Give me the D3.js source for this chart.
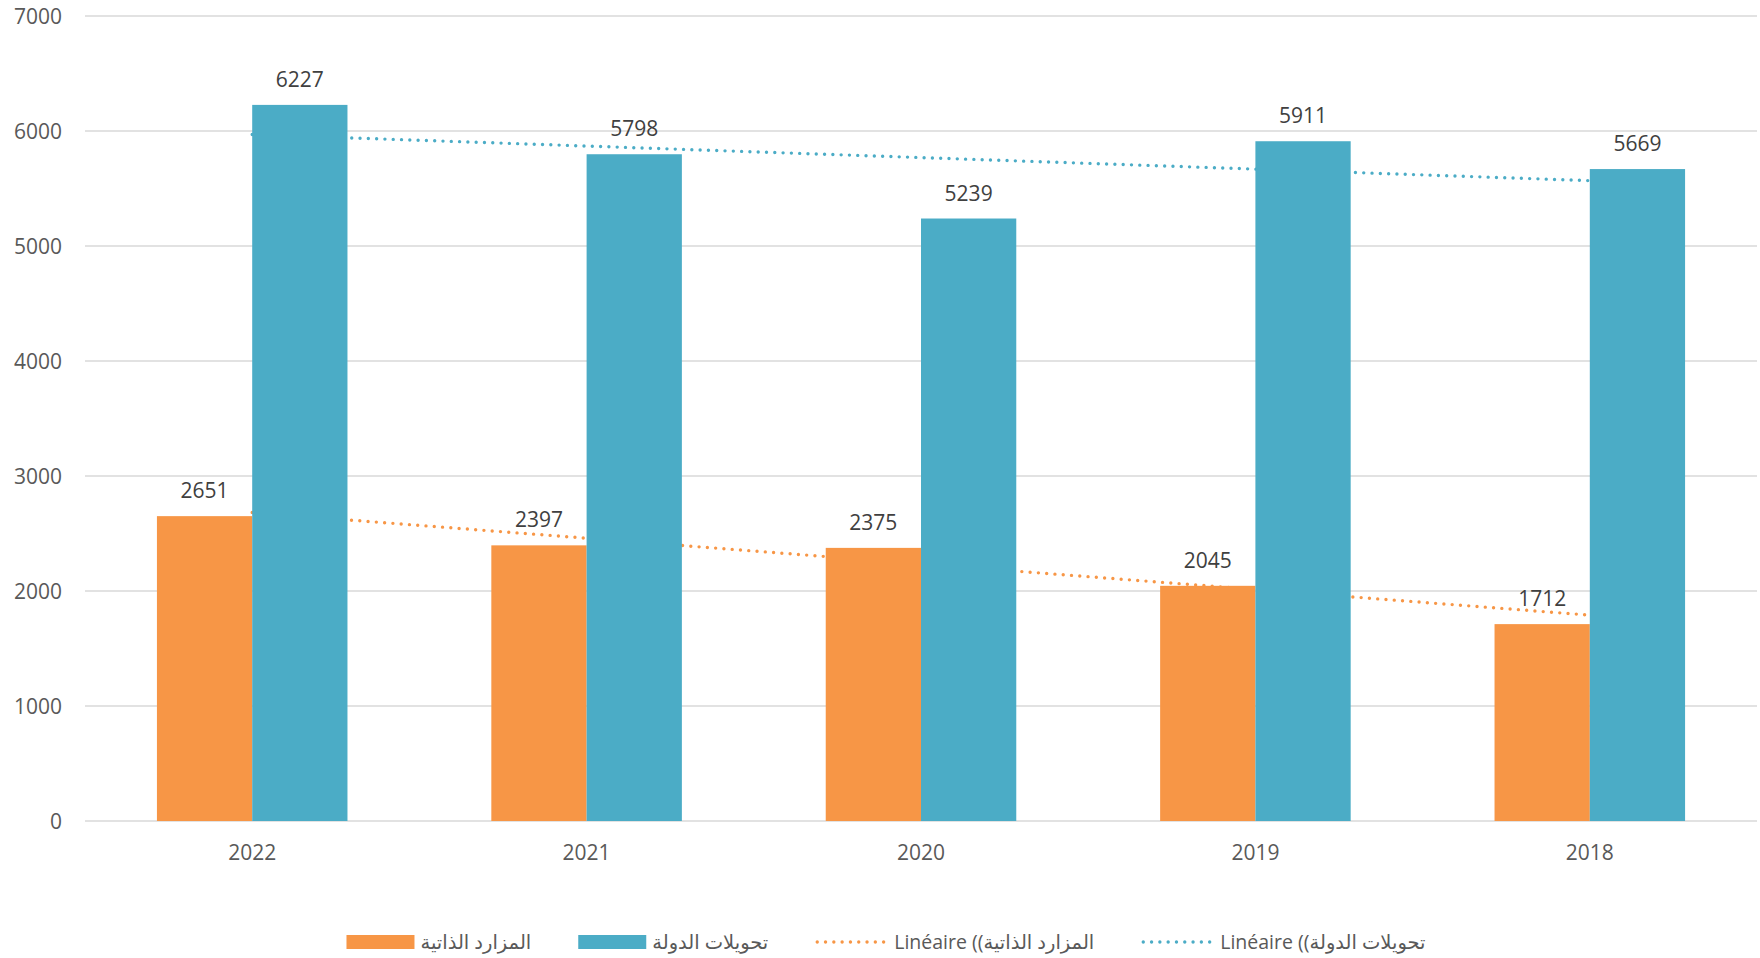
<!DOCTYPE html>
<html>
<head>
<meta charset="utf-8">
<script src="https://cdn.jsdelivr.net/npm/d3@7"></script>
<style>
  body { margin: 0; background: #fff; }
  svg { display: block; }
  text { font-family: "Open Sans", "DejaVu Sans", sans-serif; }
</style>
</head>
<body>
<div id="chart"></div>
<script>
var width = 1760;
var height = 958;

// data
var years = ["2022", "2021", "2020", "2019", "2018"];
var ownResources = [2651, 2397, 2375, 2045, 1712];
var stateTransfers = [6227, 5798, 5239, 5911, 5669];
var yTicks = [0, 1000, 2000, 3000, 4000, 5000, 6000, 7000];
var seriesNames = ["المزارد الذاتية", "تحويلات الدولة"];
var trendNames = ["Linéaire (\u202Bالمزارد الذاتية)\u202C", "Linéaire (\u202Bتحويلات الدولة)\u202C"];
var colors = ["#F79646", "#4BACC6"];

var plot = {left: 85, right: 1757, top: 16, bottom: 821};

var svg = d3.select("#chart").append("svg")
  .attr("width", width)
  .attr("height", height);

var x = d3.scaleBand().domain(years).range([plot.left, plot.right]).padding(0);
var xs = d3.scaleBand().domain([0, 1]).range([0, x.bandwidth()]).paddingInner(0).paddingOuter(0.755);
var y = d3.scaleLinear().domain([0, 7000]).range([plot.bottom, plot.top]);

// gridlines
svg.append("g")
  .selectAll("line")
  .data(yTicks)
  .enter().append("line")
    .attr("x1", plot.left)
    .attr("x2", plot.right)
    .attr("y1", function(d) { return y(d); })
    .attr("y2", function(d) { return y(d); })
    .attr("stroke", "#d9d9d9")
    .attr("stroke-width", 1.4);

// y axis labels
svg.append("g")
  .selectAll("text")
  .data(yTicks)
  .enter().append("text")
    .attr("x", 62)
    .attr("y", function(d) { return y(d); })
    .attr("dy", "0.36em")
    .attr("text-anchor", "end")
    .attr("font-size", 21)
    .attr("fill", "#595959")
    .text(function(d) { return d; });

// x axis labels
svg.append("g")
  .selectAll("text")
  .data(years)
  .enter().append("text")
    .attr("x", function(d) { return x(d) + x.bandwidth() / 2; })
    .attr("y", plot.bottom + 39)
    .attr("text-anchor", "middle")
    .attr("font-size", 21)
    .attr("fill", "#595959")
    .text(function(d) { return d; });

// linear trend (least squares, like the spreadsheet trendline)
function trend(values) {
  var n = values.length;
  var mx = d3.mean(values, function(v, i) { return i; });
  var my = d3.mean(values);
  var num = 0, den = 0;
  values.forEach(function(v, i) { num += (i - mx) * (v - my); den += (i - mx) * (i - mx); });
  var slope = num / den;
  return [my - slope * mx, my + slope * (n - 1 - mx)];
}

var series = [ownResources, stateTransfers];

// trendlines sit behind the bars
series.forEach(function(vals, s) {
  var t = trend(vals);
  svg.append("line")
    .attr("x1", x(years[0]) + x.bandwidth() / 2)
    .attr("x2", x(years[years.length - 1]) + x.bandwidth() / 2)
    .attr("y1", y(t[0]))
    .attr("y2", y(t[1]))
    .attr("stroke", colors[s])
    .attr("stroke-width", 3.4)
    .attr("stroke-linecap", "round")
    .attr("stroke-dasharray", "0 8.3");
});

// bars
series.forEach(function(vals, s) {
  var g = svg.append("g");
  g.selectAll("rect")
    .data(vals)
    .enter().append("rect")
      .attr("x", function(d, i) { return x(years[i]) + xs(s); })
      .attr("width", xs.bandwidth())
      .attr("y", function(d) { return y(d); })
      .attr("height", function(d) { return y(0) - y(d); })
      .attr("fill", colors[s]);
  g.selectAll("text")
    .data(vals)
    .enter().append("text")
      .attr("x", function(d, i) { return x(years[i]) + xs(s) + xs.bandwidth() / 2; })
      .attr("y", function(d) { return y(d) - 18; })
      .attr("text-anchor", "middle")
      .attr("font-size", 21)
      .attr("fill", "#404040")
      .text(function(d) { return d; });
});

// legend
var legend = svg.append("g");
var items = [
  {type: "box", color: colors[0], label: seriesNames[0]},
  {type: "box", color: colors[1], label: seriesNames[1]},
  {type: "dots", color: colors[0], label: trendNames[0]},
  {type: "dots", color: colors[1], label: trendNames[1]}
];
var ly = 942;
var cursor = 0;
var placed = [];
items.forEach(function(it) {
  var g = legend.append("g");
  var tx = 74;
  if (it.type == "box") {
    g.append("rect").attr("x", 0).attr("y", ly - 7).attr("width", 68).attr("height", 14).attr("fill", it.color);
  } else {
    g.append("line").attr("x1", 2).attr("x2", 72).attr("y1", ly).attr("y2", ly)
      .attr("stroke", it.color).attr("stroke-width", 3.4)
      .attr("stroke-linecap", "round").attr("stroke-dasharray", "0 8.3");
    tx = 79;
  }
  var t = g.append("text")
    .attr("x", tx)
    .attr("y", ly)
    .attr("dy", "0.35em")
    .attr("font-size", 19.5)
    .attr("fill", "#595959")
    .attr("direction", "ltr")
    .text(it.label);
  var w = tx + t.node().getComputedTextLength();
  placed.push({g: g, x: cursor});
  cursor += w + 47;
});
var total = cursor - 47;
var startX = 886 - total / 2;
placed.forEach(function(p) {
  p.g.attr("transform", "translate(" + (startX + p.x) + ",0)");
});
</script>
</body>
</html>
